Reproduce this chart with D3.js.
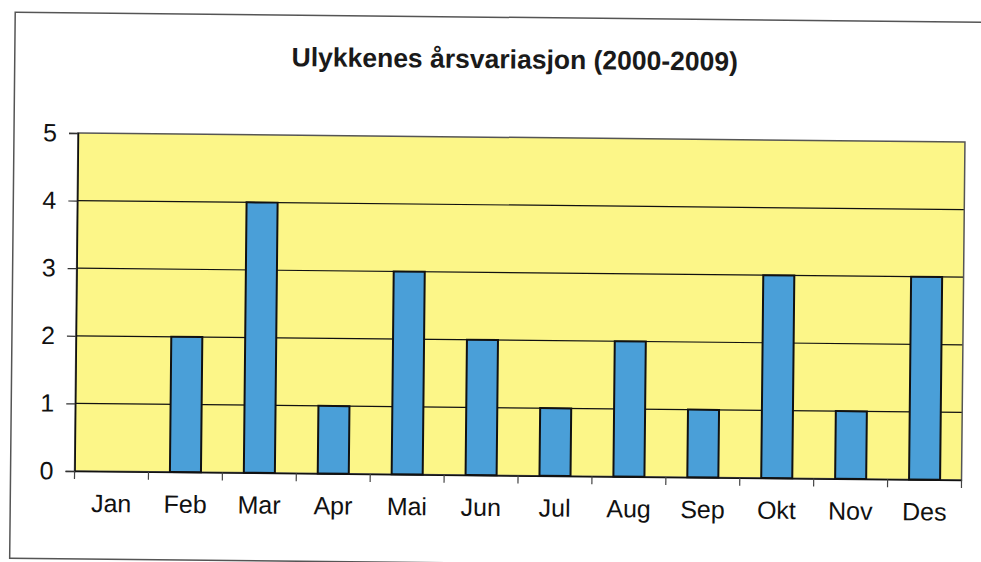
<!DOCTYPE html>
<html><head><meta charset="utf-8">
<script src="https://cdn.jsdelivr.net/npm/d3@7"></script>
<style>body{margin:0;background:#fff;}svg{display:block;}</style>
</head><body>
<script>
const months = ["Jan","Feb","Mar","Apr","Mai","Jun","Jul","Aug","Sep","Okt","Nov","Des"];
const accidents = [0,2,4,1,3,2,1,2,1,3,1,3];
const yTicks = [0,1,2,3,4,5];
const title = "Ulykkenes årsvariasjon (2000-2009)";

const W = 981, H = 562;
const plot = {left:78, top:133, right:965, bottom:471};
const svg = d3.select("body").append("svg").attr("width",W).attr("height",H);
const angle = Math.atan(9/887)*180/Math.PI;
const g = svg.append("g").attr("transform",`rotate(${angle},${plot.left},${plot.top})`);

// outer frame
g.append("rect").attr("x",14).attr("y",13).attr("width",1000).attr("height",546)
  .attr("fill","none").attr("stroke","#555").attr("stroke-width",1.5);

g.append("text").attr("x",514).attr("y",64).attr("text-anchor","middle")
  .attr("font-family","Liberation Sans, Arial, sans-serif").attr("font-weight","bold")
  .attr("font-size",26.5).attr("fill","#1a1a1a").text(title);

const x = d3.scaleBand().domain(months).range([plot.left,plot.right]).paddingInner(0.58).paddingOuter(0.29);
const xb = d3.scaleBand().domain(months).range([plot.left,plot.right]);
const y = d3.scaleLinear().domain([0,5]).range([plot.bottom,plot.top]);

g.append("rect").attr("x",plot.left).attr("y",plot.top).attr("width",plot.right-plot.left)
  .attr("height",plot.bottom-plot.top).attr("fill","#fcf688");

// grid
g.append("g").selectAll("line").data(yTicks.filter(d=>d>0&&d<5)).join("line")
  .attr("x1",plot.left).attr("x2",plot.right).attr("y1",d=>y(d)).attr("y2",d=>y(d))
  .attr("stroke","#111").attr("stroke-width",1.2);

// plot border
g.append("rect").attr("x",plot.left).attr("y",plot.top).attr("width",plot.right-plot.left)
  .attr("height",plot.bottom-plot.top).attr("fill","none").attr("stroke","#555").attr("stroke-width",1.5);

// bars
g.append("g").selectAll("rect").data(months.map((m,i)=>({m,v:accidents[i]})).filter(d=>d.v>0)).join("rect")
  .attr("x",d=>x(d.m)).attr("width",x.bandwidth()).attr("y",d=>y(d.v)).attr("height",d=>y(0)-y(d.v))
  .attr("fill","#4a9fd8").attr("stroke","#111").attr("stroke-width",2);

// y axis
const yAxis = d3.axisLeft(y).tickValues(yTicks).tickSize(9).tickPadding(12).tickFormat(d3.format("d"));
const ya = g.append("g").attr("transform",`translate(${plot.left},0)`).call(yAxis);
ya.select(".domain").attr("stroke","#111").attr("stroke-width",1.5);
ya.selectAll(".tick line").attr("stroke","#333").attr("stroke-width",1.2);
ya.selectAll("text").attr("font-family","Liberation Sans, Arial, sans-serif").attr("font-size",25).attr("fill","#111");

// x axis
const xAxis = d3.axisBottom(xb).tickSize(0).tickPadding(23);
const xa = g.append("g").attr("transform",`translate(0,${plot.bottom})`).call(xAxis);
xa.select(".domain").attr("stroke","#111").attr("stroke-width",1.5);
xa.selectAll("text").attr("font-family","Liberation Sans, Arial, sans-serif").attr("font-size",25).attr("fill","#111");
// x tick marks between categories
const bounds = months.map(m=>xb(m)).concat([plot.right]);
g.append("g").selectAll("line").data(bounds).join("line")
  .attr("x1",d=>d).attr("x2",d=>d).attr("y1",plot.bottom).attr("y2",plot.bottom+8)
  .attr("stroke","#444").attr("stroke-width",1.2);
</script>
</body></html>
